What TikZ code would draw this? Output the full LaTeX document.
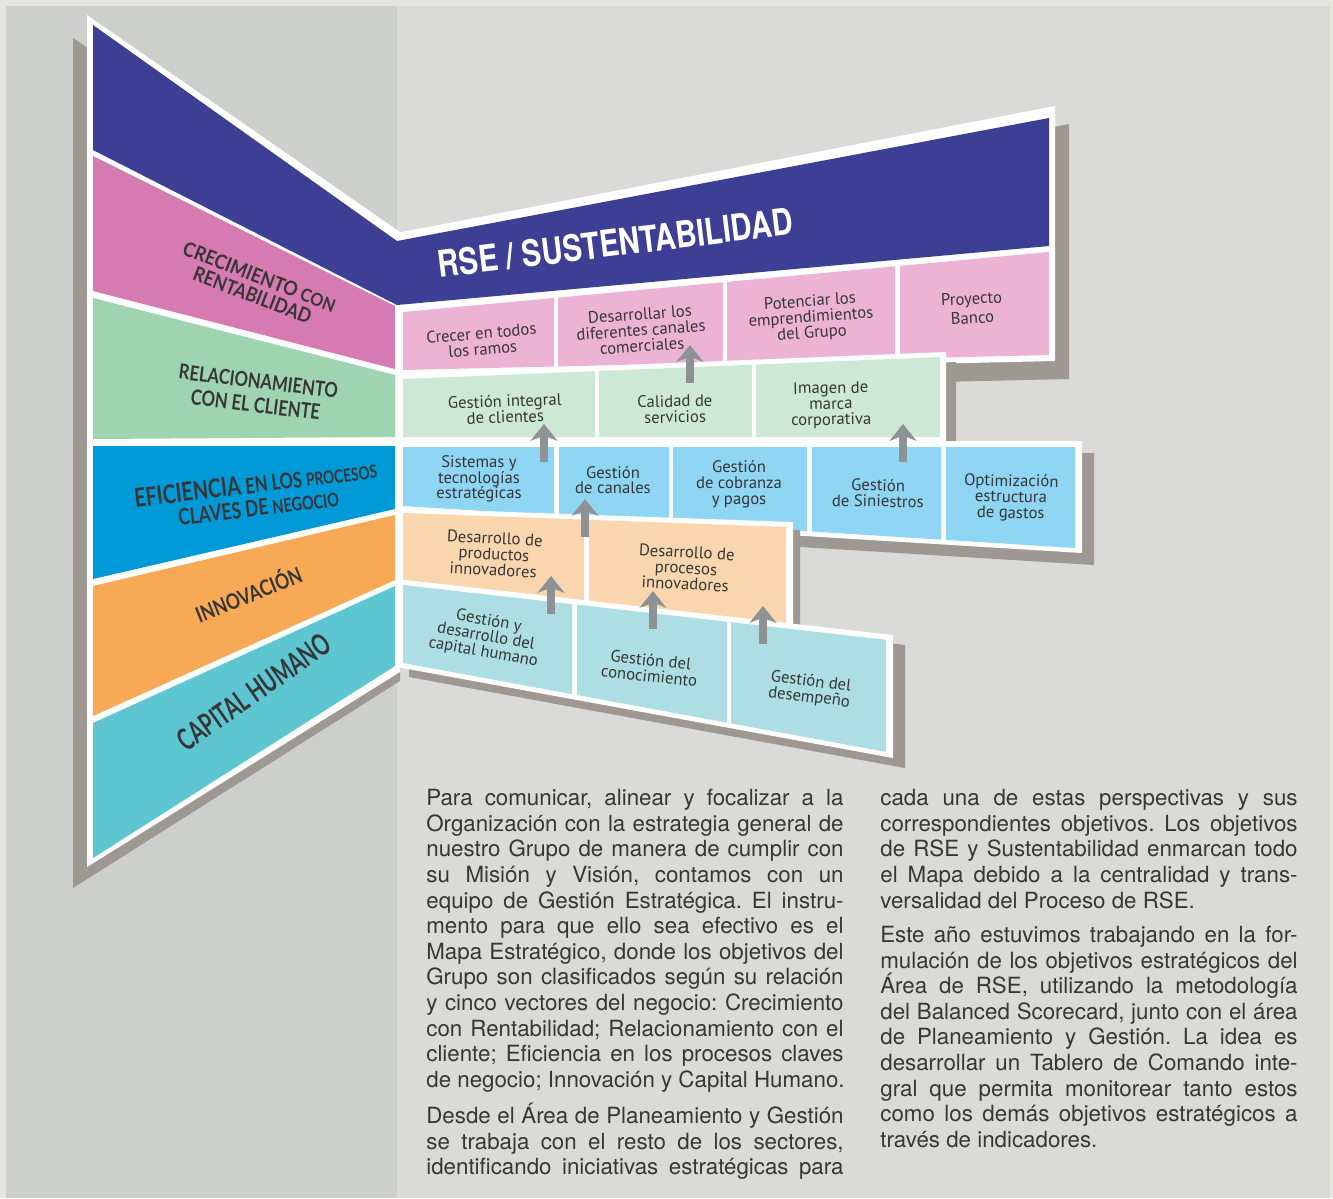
\documentclass[tikz,border=0pt]{standalone}
\usepackage{fontspec}
\setmainfont{TeX Gyre Heros}
\newfontfamily\boxfont{PT Sans}
\newfontfamily\labfont{Lato}
\usetikzlibrary{arrows.meta}
\frenchspacing

\definecolor{frameg}{HTML}{E6E6E1}
\definecolor{leftbg}{HTML}{CDCFCC}
\definecolor{rightbg}{HTML}{DADAD8}
\definecolor{shadowg}{HTML}{9D9892}
\definecolor{navy}{HTML}{3D3F94}
\definecolor{lpink}{HTML}{D67BB1}
\definecolor{lgreen}{HTML}{9FD4B1}
\definecolor{lblue}{HTML}{0099D8}
\definecolor{lorange}{HTML}{F8A955}
\definecolor{lteal}{HTML}{5DC6D1}
\definecolor{cpink}{HTML}{ECB3D4}
\definecolor{cgreen}{HTML}{CEE8D6}
\definecolor{cblue}{HTML}{8FD6F4}
\definecolor{corange}{HTML}{F9D6AE}
\definecolor{cteal}{HTML}{ACDEE3}
\definecolor{arrowg}{HTML}{8F9294}
\definecolor{txtdark}{HTML}{363636}

% fonts of the objective boxes
\newcommand{\boxfontset}{\boxfont\fontsize{9.5}{9}\selectfont\lineskiplimit=-10pt\relax}

\tikzset{
    boxtxt/.style={font=\boxfontset, text=txtdark, align=center, inner sep=0pt},
    labtxt/.style={font=\labfont\bfseries\fontsize{10}{10.8}\selectfont, text=txtdark, align=center, inner sep=0pt},
    para/.style={font=\fontsize{12.7}{14.57}\selectfont, text=txtdark, inner sep=0pt, anchor=north west},
    uparrow/.style={draw=arrowg, line width=4.5pt, -{Stealth[length=9.6pt, width=15.3pt, inset=3pt]}}
}

% one coloured cell of a row, between two row lines
\newcommand{\cell}[5]{\fill[#1] (#4,{#2(#4)}) -- (#5,{#2(#5)}) -- (#5,{#3(#5)}) -- (#4,{#3(#4)}) -- cycle;}
% one justified text line
\newcommand{\jl}[1]{\hbox to 237.5pt{#1}}

\begin{document}
\begin{tikzpicture}[x=0.02cm, y=-0.02cm,
    declare function={
        pinktop(\x)=312-0.0929*(\x-403);
        pinkbot(\x)=370-0.0232*(\x-403);
        greentop(\x)=379-0.041*(\x-403);
        greenbot(\x)=437+0*\x;
        bluetop(\x)=447+0*\x;
        bluebot(\x)=506+0.0625*(\x-403);
        orangetop(\x)=513+0.0366*(\x-403);
        orangebot(\x)=580+0.1134*(\x-403);
        tealtop(\x)=585+0.1134*(\x-403);
        tealbot(\x)=663+0.184*(\x-403);
    }]

    % page
    \useasboundingbox (0,0) rectangle (1333,1198);
    \fill[frameg] (0,0) rectangle (1333,1198);
    \fill[leftbg] (6,6) rectangle (397,1198);
    \fill[rightbg] (397,6) rectangle (1330,1198);

    % left wall
    \fill[shadowg] (73,38) -- (400,265) -- (400,681) -- (73,888) -- cycle;
    \fill[white] (87,15) -- (400,232) -- (400,672) -- (87,867) -- cycle;

    % rows on the right wall (shadow, then white frame)
    \foreach \dx/\dy/\col in {14/18/shadowg, 0/0/white}
        \fill[\col, shift={(\dx,\dy)}] (397,233) -- (1055,106) -- (1055,361) -- (397,376) -- cycle;
    \fill[navy] (93,25) -- (397,241) -- (1049,118) -- (1049,246) -- (397,305) -- (93,150) -- cycle;

    \fill[lpink] (93,156) -- (395,306) -- (395,369) -- (93,291) -- cycle;
    \fill[lgreen] (93,298) -- (395,375) -- (395,437) -- (93,439) -- cycle;
    \fill[lblue] (93,446) -- (395,446) -- (395,509) -- (93,579) -- cycle;
    \fill[lorange] (93,586) -- (395,515) -- (395,580) -- (93,716) -- cycle;
    \fill[lteal] (93,723) -- (395,586) -- (395,666) -- (93,858) -- cycle;

    \cell{cpink}{pinktop}{pinkbot}{403}{554}
    \cell{cpink}{pinktop}{pinkbot}{558}{723}
    \cell{cpink}{pinktop}{pinkbot}{727}{895}
    \cell{cpink}{pinktop}{pinkbot}{900}{1049}

    \foreach \dx/\dy/\col in {10/10/shadowg, 0/0/white}
        \fill[\col, shift={(\dx,\dy)}] (397,374) -- (946,352) -- (946,442) -- (397,442) -- cycle;
    \cell{cgreen}{greentop}{greenbot}{403}{595}
    \cell{cgreen}{greentop}{greenbot}{599}{752}
    \cell{cgreen}{greentop}{greenbot}{756}{940}

    \foreach \dx/\dy/\col in {12/12/shadowg, 0/0/white}
        \fill[\col, shift={(\dx,\dy)}] (397,441) -- (1082,441) -- (1082,553) -- (397,511) -- cycle;
    \cell{cblue}{bluetop}{bluebot}{403}{554}
    \cell{cblue}{bluetop}{bluebot}{559}{669}
    \cell{cblue}{bluetop}{bluebot}{673}{807}
    \cell{cblue}{bluetop}{bluebot}{812}{941}
    \cell{cblue}{bluetop}{bluebot}{946}{1075}

    \foreach \dx/\dy/\col in {7/8/shadowg, 0/0/white}
        \fill[\col, shift={(\dx,\dy)}] (397,508) -- (793,522) -- (793,640) -- (397,600) -- cycle;
    \cell{corange}{orangetop}{orangebot}{403}{584}
    \cell{corange}{orangetop}{orangebot}{589}{786}

    \foreach \dx/\dy/\col in {12/10/shadowg, 0/0/white}
        \fill[\col, shift={(\dx,\dy)}] (397,579) -- (893,635) -- (893,758) -- (397,667) -- cycle;
    \cell{cteal}{tealtop}{tealbot}{403}{572}
    \cell{cteal}{tealtop}{tealbot}{577}{727}
    \cell{cteal}{tealtop}{tealbot}{731}{886}

    % perspective labels
    \node[labtxt, rotate=-21] (crec) at (256,286) {\resizebox{92pt}{8.3pt}{CRECIMIENTO \small CON}\\[0.5pt]\resizebox{71pt}{8.3pt}{RENTABILIDAD}};
    \node[labtxt, rotate=-7] (rela) at (257,393) {\resizebox{91pt}{8.6pt}{RELACIONAMIENTO}\\[2.7pt]\resizebox{74pt}{8.8pt}{CON EL CLIENTE}};
    \node[labtxt, rotate=7] (efic) at (257,495) {\resizebox{139pt}{10.8pt}{\Large EFICIENCIA \large EN LOS \normalsize PROCESOS}\\[2.5pt]\resizebox{92pt}{9.4pt}{\large CLAVES DE \normalsize NEGOCIO}};
    \node[labtxt, rotate=22] (inno) at (248,593) {\resizebox{64pt}{11.5pt}{INNOVACIÓN}};
    \node[labtxt, rotate=35] (capi) at (254,692) {\resizebox{102pt}{12.5pt}{CAPITAL HUMANO}};
    \node[text=white, inner sep=0pt, anchor=base, rotate=7] (rse) at (617,256) {\resizebox{203pt}{15.5pt}{\bfseries RSE / SUSTENTABILIDAD}};

    % objectives
    \node[boxtxt, rotate=5] (crecer) at (482,341) {Crecer en todos\\los ramos};
    \node[boxtxt, rotate=4] (canales) at (641,330) {Desarrollar los\\diferentes canales\\comerciales};
    \node[boxtxt, rotate=4] (empren) at (811,318) {Potenciar los\\emprendimientos\\del Grupo};
    \node[boxtxt, rotate=3] (banco) at (972,308) {Proyecto\\[2pt]Banco};

    \node[boxtxt, rotate=2] (clientes) at (505,409) {Gestión integral\\de clientes};
    \node[boxtxt, rotate=1] (calidad) at (675,409) {Calidad de\\servicios};
    \node[boxtxt, rotate=1] (imagen) at (831,405) {Imagen de\\marca\\corporativa};

    \node[boxtxt] (sistemas) at (479,479) {Sistemas y\\tecnologías\\estratégicas};
    \node[boxtxt] (gcanales) at (613,480) {Gestión\\de canales};
    \node[boxtxt] (cobranza) at (739,484) {Gestión\\de cobranza\\y pagos};
    \node[boxtxt, rotate=-1] (siniestros) at (878,493) {Gestión\\de Siniestros};
    \node[boxtxt, rotate=-1] (gastos) at (1011,498) {Optimización\\estructura\\de gastos};

    \node[boxtxt, rotate=-3] (productos) at (494,554) {Desarrollo de\\productos\\innovadores};
    \node[boxtxt, rotate=-3] (procesos) at (686,568) {Desarrollo de\\procesos\\innovadores};

    \node[boxtxt, rotate=-10] (capital) at (486,637) {Gestión y\\desarrollo del\\capital humano};
    \node[boxtxt, rotate=-6] (conoc) at (650,668) {Gestión del\\conocimiento};
    \node[boxtxt, rotate=-7] (desemp) at (810,690) {Gestión del\\desempeño};

    % arrows between rows
    \coordinate (a1s) at (690,383); \coordinate (a1e) at (690,345);
    \coordinate (a2s) at (544,462); \coordinate (a2e) at (544,424);
    \coordinate (a3s) at (903,462); \coordinate (a3e) at (903,424);
    \coordinate (a4s) at (585,537); \coordinate (a4e) at (585,499);
    \coordinate (a5s) at (551,614); \coordinate (a5e) at (551,576);
    \coordinate (a6s) at (653,629); \coordinate (a6e) at (653,591);
    \coordinate (a7s) at (763,644); \coordinate (a7e) at (763,606);
    \draw[uparrow] (a1s) -- (a1e);
    \draw[uparrow] (a2s) -- (a2e);
    \draw[uparrow] (a3s) -- (a3e);
    \draw[uparrow] (a4s) -- (a4e);
    \draw[uparrow] (a5s) -- (a5e);
    \draw[uparrow] (a6s) -- (a6e);
    \draw[uparrow] (a7s) -- (a7e);

    % text columns
    \node[para] (colleft) at (426,789) {\vbox{%
        \jl{Para comunicar, alinear y focalizar a la}
        \jl{Organización con la estrategia general de}
        \jl{nuestro Grupo de manera de cumplir con}
        \jl{su Misión y Visión, contamos con un}
        \jl{equipo de Gestión Estratégica. El instru-}
        \jl{mento para que ello sea efectivo es el}
        \jl{Mapa Estratégico, donde los objetivos del}
        \jl{Grupo son clasificados según su relación}
        \jl{y cinco vectores del negocio: Crecimiento}
        \jl{con Rentabilidad; Relacionamiento con el}
        \jl{cliente; Eficiencia en los procesos claves}
        \hbox{de negocio; Innovación y Capital Humano.}
        \vskip 6pt
        \jl{Desde el Área de Planeamiento y Gestión}
        \jl{se trabaja con el resto de los sectores,}
        \jl{identificando iniciativas estratégicas para}}};
    \node[para] (colright) at (880,789) {\vbox{%
        \jl{cada una de estas perspectivas y sus}
        \jl{correspondientes objetivos. Los objetivos}
        \jl{de RSE y Sustentabilidad enmarcan todo}
        \jl{el Mapa debido a la centralidad y trans-}
        \hbox{versalidad del Proceso de RSE.}
        \vskip 5pt
        \jl{Este año estuvimos trabajando en la for-}
        \jl{mulación de los objetivos estratégicos del}
        \jl{Área de RSE, utilizando la metodología}
        \jl{del Balanced Scorecard, junto con el área}
        \jl{de Planeamiento y Gestión. La idea es}
        \jl{desarrollar un Tablero de Comando inte-}
        \jl{gral que permita monitorear tanto estos}
        \jl{como los demás objetivos estratégicos a}
        \hbox{través de indicadores.}}};

\end{tikzpicture}
\end{document}
